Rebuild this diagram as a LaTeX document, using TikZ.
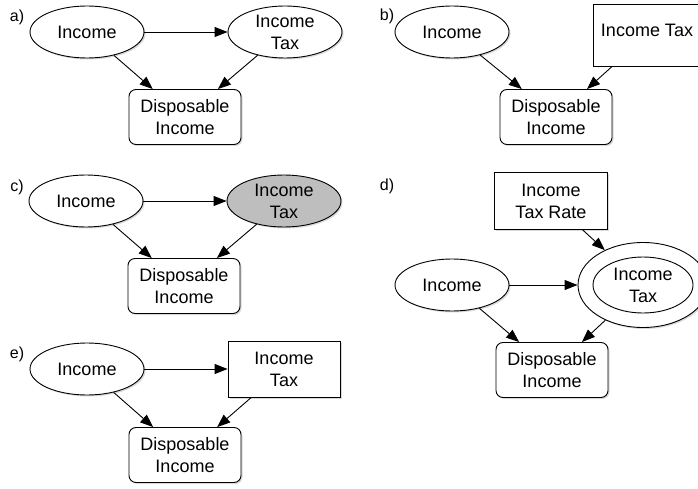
\documentclass[tikz,border=0pt]{standalone}
\usepackage{fontspec}
\setmainfont{Liberation Sans}
\usetikzlibrary{shapes.geometric,shadows,arrows.meta}
\begin{document}
\begin{tikzpicture}[x=1pt,y=-1pt,
  every node/.style={font=\fontsize{18}{22}\selectfont, align=center},
  shad/.style={drop shadow={shadow xshift=1.5pt,shadow yshift=-1.5pt,opacity=0.3}},
  var/.style={ellipse,draw,fill=white,line width=0.9pt,minimum width=114pt,minimum height=52pt,inner sep=0pt,shad},
  dec/.style={rectangle,draw,fill=white,line width=0.9pt,minimum width=112pt,minimum height=56pt,inner sep=0pt,shad},
  util/.style={rectangle,rounded corners=7pt,draw,fill=white,line width=0.9pt,minimum width=112pt,minimum height=55pt,inner sep=0pt,shad},
  arr/.style={-{Triangle[length=13pt,width=10pt]},line width=0.9pt},
  lab/.style={font=\fontsize{16}{18}\selectfont}]
\useasboundingbox (0,0) rectangle (698,489);
% a)
\node[lab] (la) at (17,17) {a)};
\node[var] (aI) at (87,32) {Income};
\node[var] (aT) at (285,32) {Income\\Tax};
\node[util] (aD) at (185,117) {Disposable\\Income};
\draw[arr] (aI) -- (aT);
\draw[arr] (aI) -- (aD);
\draw[arr] (aT) -- (aD);
% b)
\node[lab] (lb) at (387,16) {b)};
\node[var] (bI) at (452,32) {Income};
\node[dec,minimum width=108pt,minimum height=62pt,text depth=9pt] (bT) at (647,35) {Income Tax};
\node[util] (bD) at (556,117) {Disposable\\Income};
\draw[arr] (bI) -- (bD);
\draw[arr] (bT) -- (bD);
% c)
\node[lab] (lc) at (17,187) {c)};
\node[var] (cI) at (86,201) {Income};
\node[var,fill={rgb,255:red,190;green,190;blue,190}] (cT) at (284,201) {Income\\Tax};
\node[util] (cD) at (184,286) {Disposable\\Income};
\draw[arr] (cI) -- (cT);
\draw[arr] (cI) -- (cD);
\draw[arr] (cT) -- (cD);
% d)
\node[lab] (ld) at (387,186) {d)};
\node[dec,minimum width=113pt,minimum height=57pt] (dR) at (551,201) {Income\\Tax Rate};
\node[var] (dI) at (452,285) {Income};
\node[var,minimum width=130pt,minimum height=85pt] (dO) at (643,285) {};
\node[ellipse,draw,line width=0.9pt,minimum width=100pt,minimum height=56pt,inner sep=0pt] (dT) at (643,285) {Income\\Tax};
\node[util] (dD) at (552,370) {Disposable\\Income};
\draw[arr] (dR) -- (dO);
\draw[arr] (dI) -- (dO);
\draw[arr] (dI) -- (dD);
\draw[arr] (dO) -- (dD);
% e)
\node[lab] (le) at (17,354) {e)};
\node[var] (eI) at (87,369) {Income};
\node[dec] (eT) at (284,369) {Income\\Tax};
\node[util] (eD) at (185,455) {Disposable\\Income};
\draw[arr] (eI) -- (eT);
\draw[arr] (eI) -- (eD);
\draw[arr] (eT) -- (eD);
\end{tikzpicture}
\end{document}
